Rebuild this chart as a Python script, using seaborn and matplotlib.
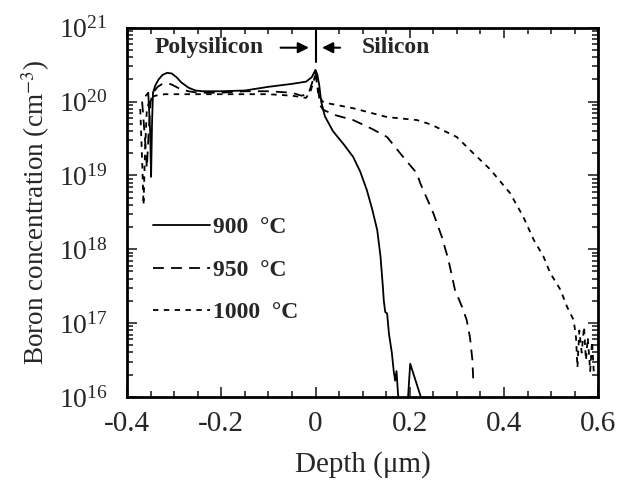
import matplotlib
matplotlib.use("Agg")
import matplotlib.pyplot as plt
import matplotlib.ticker as mticker
from matplotlib.lines import Line2D
import numpy as np
import pandas as pd
import seaborn as sns

# depth (um) and log10 of boron concentration (cm^-3)
depth_900 = [-0.360, -0.355, -0.351, -0.349, -0.347, -0.345, -0.340, -0.333, -0.325, -0.315,
             -0.305, -0.295, -0.285, -0.270, -0.255, -0.240, -0.200, -0.150, -0.100, -0.050,
             -0.020, -0.008, 0.000, 0.004, 0.008, 0.012, 0.020, 0.037, 0.060, 0.080,
             0.095, 0.109, 0.120, 0.131, 0.138, 0.143, 0.145, 0.148, 0.152, 0.156,
             0.162, 0.166, 0.169, 0.172, 0.175, 0.178, 0.183, 0.196, 0.201, 0.226]
logc_900 = [20.08, 20.12, 19.60, 18.98, 19.70, 20.12, 20.22, 20.30, 20.36, 20.39,
            20.38, 20.33, 20.26, 20.19, 20.15, 20.14, 20.14, 20.15, 20.20, 20.24,
            20.27, 20.33, 20.43, 20.36, 20.22, 20.00, 19.80, 19.60, 19.42, 19.25,
            19.05, 18.80, 18.55, 18.26, 17.90, 17.49, 17.30, 17.15, 17.13, 16.85,
            16.60, 16.35, 16.22, 16.35, 16.05, 15.90, 15.95, 15.95, 16.45, 15.95]

depth_950 = [-0.368, -0.362, -0.358, -0.354, -0.350, -0.345, -0.335, -0.325, -0.315, -0.305,
             -0.290, -0.270, -0.250, -0.200, -0.150, -0.100, -0.050, -0.030, -0.015, -0.005,
             0.000, 0.005, 0.010, 0.016, 0.040, 0.080, 0.120, 0.152, 0.186, 0.215,
             0.222, 0.250, 0.268, 0.282, 0.296, 0.311, 0.321, 0.328, 0.333, 0.335]
logc_950 = [20.00, 19.50, 19.10, 19.60, 20.00, 20.12, 20.20, 20.24, 20.25, 20.23,
            20.18, 20.14, 20.12, 20.12, 20.14, 20.14, 20.12, 20.08, 20.10, 20.30,
            20.40, 20.20, 19.95, 19.89, 19.82, 19.75, 19.63, 19.52, 19.25, 19.03,
            18.90, 18.49, 18.17, 17.86, 17.45, 17.22, 17.04, 16.80, 16.50, 16.20]

depth_1000 = [-0.372, -0.368, -0.365, -0.362, -0.358, -0.350, -0.340, -0.320, -0.300, -0.250,
              -0.200, -0.150, -0.100, -0.050, -0.020, -0.010, -0.003, 0.000, 0.006, 0.015,
              0.024, 0.080, 0.152, 0.215, 0.245, 0.300, 0.335, 0.371, 0.413, 0.441,
              0.463, 0.484, 0.498, 0.520, 0.534, 0.548, 0.553, 0.556, 0.560, 0.565,
              0.570, 0.574, 0.578, 0.583, 0.587, 0.591]
logc_1000 = [19.90, 19.20, 18.60, 19.30, 19.90, 20.05, 20.08, 20.10, 20.10, 20.10,
             20.10, 20.10, 20.10, 20.08, 20.05, 20.15, 20.30, 20.38, 20.10, 20.00,
             19.98, 19.91, 19.79, 19.75, 19.69, 19.52, 19.30, 19.08, 18.76, 18.44,
             18.13, 17.90, 17.68, 17.45, 17.22, 17.04, 16.80, 16.40, 16.90, 16.60,
             16.95, 16.50, 16.80, 16.35, 16.75, 16.30]

labels = ["900  \u00b0C", "950  \u00b0C", "1000  \u00b0C"]
styles = ["-", (0, (6, 4)), (0, (3, 3))]

frames = []
for lab, d, c in zip(labels, [depth_900, depth_950, depth_1000], [logc_900, logc_950, logc_1000]):
    frames.append(pd.DataFrame({"depth": d, "conc": 10.0 ** np.array(c), "temp": lab}))
df = pd.concat(frames, ignore_index=True)

sns.set_style("ticks")
plt.rcParams["font.family"] = ["Liberation Serif", "DejaVu Serif"]
plt.rcParams["mathtext.fontset"] = "stix"

fig, ax = plt.subplots(figsize=(6.29, 4.87), dpi=100)
fig.subplots_adjust(left=0.202, right=0.951, top=0.943, bottom=0.185)

for lab, ls in zip(labels, styles):
    sub = df[df["temp"] == lab]
    sns.lineplot(data=sub, x="depth", y="conc", ax=ax, color="black", linewidth=1.3,
                 sort=False, estimator=None, legend=False, linestyle=ls)

ax.set_yscale("log")
ax.set_xlim(-0.4, 0.6)
ax.set_ylim(1e16, 1e21)
ax.xaxis.set_major_locator(mticker.MultipleLocator(0.2))
ax.xaxis.set_minor_locator(mticker.MultipleLocator(0.05))
ax.xaxis.set_major_formatter(mticker.FuncFormatter(lambda v, p: "0" if abs(v) < 1e-9 else f"{v:.1f}"))
ax.yaxis.set_major_locator(mticker.LogLocator(base=10, numticks=10))
ax.yaxis.set_minor_locator(mticker.LogLocator(base=10, subs=np.arange(2, 10), numticks=20))
ax.yaxis.set_major_formatter(mticker.LogFormatterMathtext())
ax.tick_params(which="both", direction="in", top=True, right=True, width=1.2)
ax.tick_params(which="major", length=7, pad=10)
ax.tick_params(axis="y", which="major", pad=14)
ax.tick_params(axis="x", which="major", labelsize=21)
ax.tick_params(axis="y", which="major", labelsize=20)
ax.tick_params(which="minor", length=4)
for s in ax.spines.values():
    s.set_linewidth(2)
    s.set_color("black")

ax.set_xlabel("Depth (\u03bcm)", fontsize=21, labelpad=10)
ax.set_ylabel("Boron concentration (cm$^{-3}$)", fontsize=19.5, labelpad=5)

# interface marker and region labels
tr = ax.get_xaxis_transform()
ax.plot([0, 0], [0.908, 1.0], transform=tr, color="black", linewidth=1.5)
ax.text(-0.225, 0.946, "Polysilicon", transform=tr, ha="center", va="center",
        fontsize=17, fontweight="bold")
ax.text(0.171, 0.946, "Silicon", transform=tr, ha="center", va="center",
        fontsize=17, fontweight="bold")
ax.annotate("", xy=(-0.008, 0.946), xytext=(-0.08, 0.946), xycoords=tr, textcoords=tr,
            arrowprops=dict(arrowstyle="-|>", color="black", lw=1.5, mutation_scale=16))
ax.annotate("", xy=(0.008, 0.946), xytext=(0.058, 0.946), xycoords=tr, textcoords=tr,
            arrowprops=dict(arrowstyle="-|>", color="black", lw=1.5, mutation_scale=16))

handles = [Line2D([], [], color="black", linewidth=1.3, linestyle=ls) for ls in styles]
ax.legend(handles, labels, loc="upper left", bbox_to_anchor=(0.009, 0.545), frameon=False,
          handlelength=2.45, handletextpad=0.1, labelspacing=0.88,
          prop={"size": 17, "weight": "bold"})

fig.savefig("out.png", dpi=100)
